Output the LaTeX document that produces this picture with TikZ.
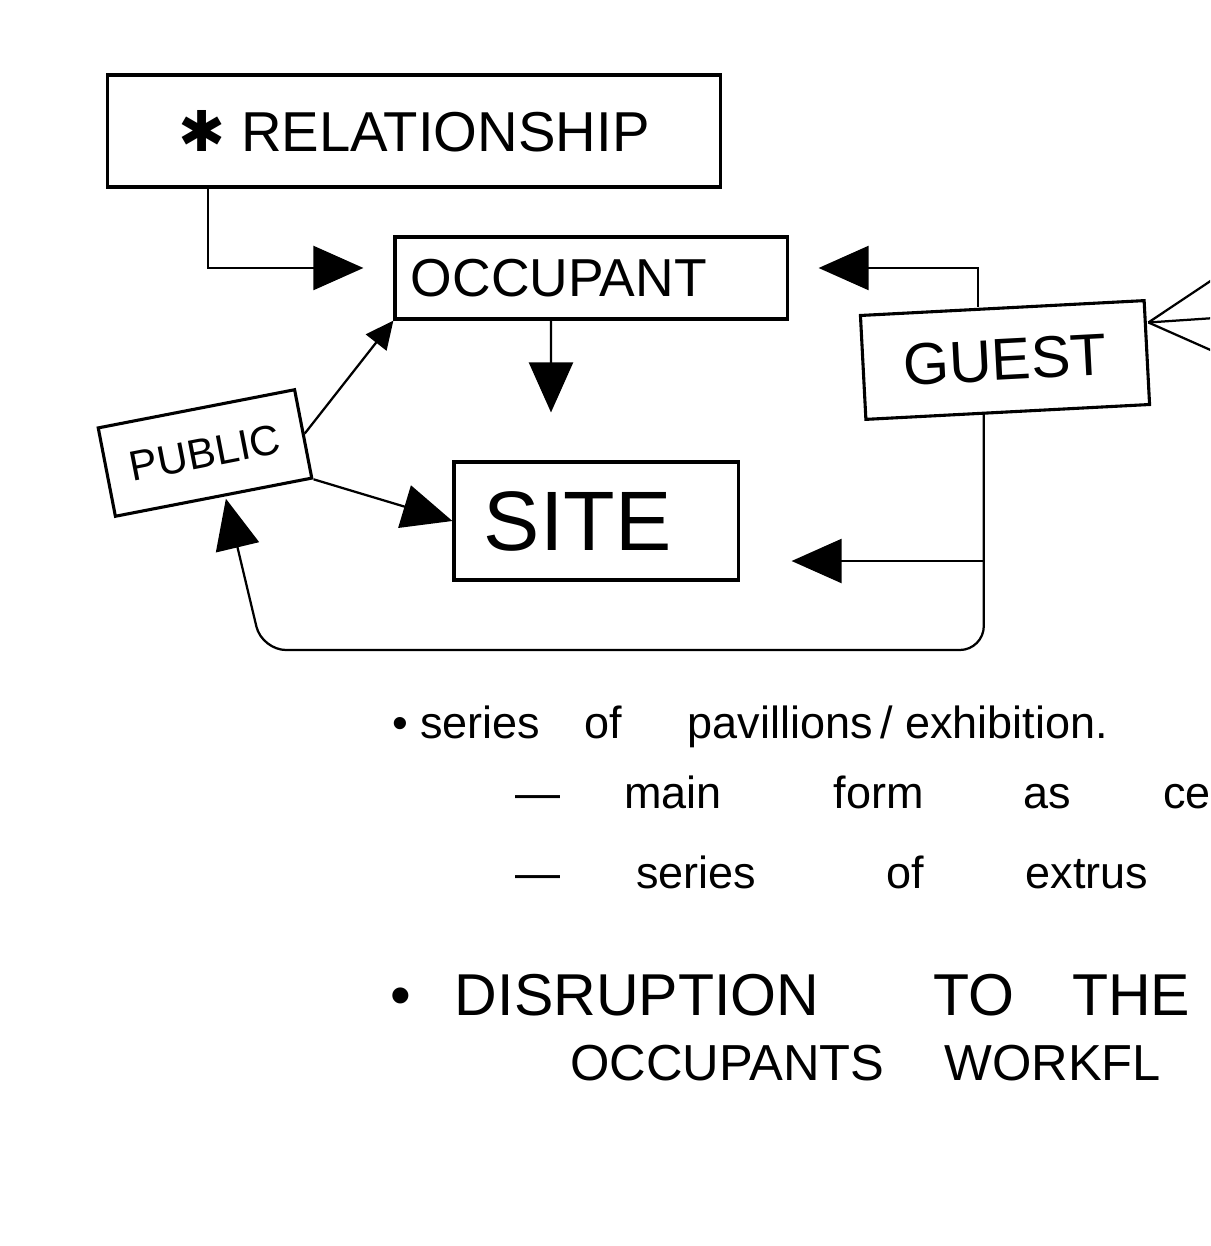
\documentclass[tikz,border=0pt]{standalone}
\usepackage{fontspec}
\setmainfont{Liberation Sans}
\newfontfamily\symfont{DejaVu Sans}
\usetikzlibrary{arrows.meta}

\begin{document}
\begin{tikzpicture}[x=0.025cm, y=-0.025cm,
    box/.style={draw, rectangle, line width=2.2pt, inner sep=0pt},
    tri/.style={-{Triangle[length=1.25cm,width=1.1cm]}, line width=1.6pt},
    smalltri/.style={-{Triangle[length=0.7cm,width=0.65cm]}, line width=1.6pt},
    foot/.style={line width=1.6pt},
    note/.style={anchor=base west, inner sep=0pt}]

    % Frame
    \useasboundingbox (0,0) rectangle (1210,1246);
    \clip (0,0) rectangle (1210,1246);

    % Boxes
    \node[box, minimum width=15.3cm, minimum height=2.8cm, font=\fontsize{40}{42}\selectfont] (rel) at (414,131) {{\symfont ✱} RELATIONSHIP};
    \node[box, minimum width=9.8cm, minimum height=2.05cm, text width=9cm, align=left, font=\fontsize{38}{40}\selectfont] (occ) at (591,278) {OCCUPANT};
    \node[box, rotate=3, minimum width=7.1cm, minimum height=2.6cm, font=\fontsize{42}{44}\selectfont] (guest) at (1005,360) {GUEST};
    \node[box, rotate=11, minimum width=5cm, minimum height=2.25cm, font=\fontsize{30}{32}\selectfont] (pub) at (205,453) {PUBLIC};
    \node[box, minimum width=7.1cm, minimum height=2.95cm, text width=5.6cm, align=left, font=\fontsize{60}{62}\selectfont] (site) at (596,521) {SITE};

    % Arrows into OCCUPANT
    \draw[tri, shorten >=0.75cm] ([xshift=-5.15cm]rel.south) |- ([yshift=0.25cm]occ.west);
    \draw[smalltri] (pub.east) -- (occ.south west);

    % Arrows into SITE
    \draw[tri, shorten >=1.2cm] ([xshift=-1cm]occ.south) -- ([xshift=-1.125cm]site.north);
    \draw[tri] (pub.south east) -- (site.west);

    % Lines out of GUEST
    \coordinate (gn) at ([xshift=-0.6cm]guest.north);
    \coordinate (gs) at ([xshift=-0.6cm]guest.south);
    \coordinate (loopl) at (262,650);
    \draw[tri, shorten >=0.75cm] (gn) |- ([yshift=0.25cm]occ.east);
    \draw[tri, shorten >=1.3cm] (gs) |- ([yshift=-1cm]site.east);
    \draw[tri, rounded corners=0.6cm] (gs) -- (gs |- loopl) -- (loopl) -- ([xshift=0.3cm]pub.south);

    % Crow's foot on GUEST
    \coordinate (gj) at ([yshift=0.75cm]guest.east);
    \coordinate (f1) at (1212,280);
    \coordinate (f2) at (1215,318);
    \coordinate (f3) at (1215,352);
    \foreach \f in {f1,f2,f3}
        \draw[foot] (\f) -- (gj);

    % Notes
    \node[note, font=\fontsize{32}{34}\selectfont] (l1) at (392,738) {•\hspace{0.3cm}series\hspace{1.1cm}of\hspace{1.65cm}pavillions\hspace{0.2cm}/\hspace{0.3cm}exhibition.};
    \node[note, font=\fontsize{32}{34}\selectfont] (l2) at (515,808) {—\hspace{1.6cm}main\hspace{2.8cm}form\hspace{2.5cm}as\hspace{2.3cm}ce};
    \node[note, font=\fontsize{32}{34}\selectfont] (l3) at (515,888) {—\hspace{1.9cm}series\hspace{3.25cm}of\hspace{2.55cm}extrus};
    \node[note, font=\fontsize{42}{44}\selectfont] (l4) at (390,1015) {•\hspace{1.1cm}DISRUPTION\hspace{2.85cm}TO\hspace{1.45cm}THE};
    \node[note, font=\fontsize{36}{38}\selectfont] (l5) at (570,1080) {OCCUPANTS\hspace{1.5cm}WORKFL};

\end{tikzpicture}
\end{document}
